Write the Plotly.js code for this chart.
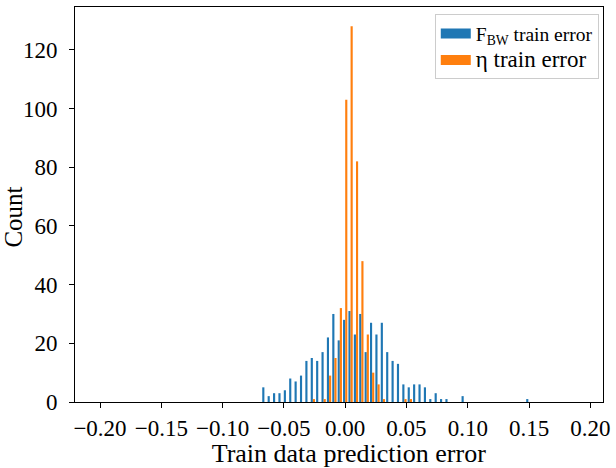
<!DOCTYPE html>
<html>
<head>
<meta charset="utf-8">
<script src="https://cdn.plot.ly/plotly-3.0.1.min.js"></script>
<style>
html,body{margin:0;padding:0;background:#fff;}
#chart{width:616px;height:468px;}
</style>
</head>
<body>
<div id="chart"></div>
<script>
// Histogram bin centres (train prediction error)
const binCenters = [
  -0.06591, -0.06152, -0.05712, -0.05273, -0.04833, -0.04394, -0.03955, -0.03515, -0.03076, -0.02636,
  -0.02197, -0.01758, -0.01318, -0.00879, -0.00439,  0.00000,  0.00439,  0.00879,  0.01318,  0.01758,
   0.02197,  0.02636,  0.03076,  0.03515,  0.03955,  0.04394,  0.04833,  0.05273,  0.05712,  0.06152,
   0.06591,  0.07030,  0.07470,  0.07909,  0.08349,  0.08788,  0.09228,  0.09667,  0.10107,  0.10546,
   0.10985,  0.11425,  0.11864,  0.12304,  0.12743,  0.13182,  0.13622,  0.14061,  0.14501,  0.14940
];
// F_BW train error counts
const fbwCounts = [
  5, 2, 3, 3, 4, 8, 7, 9, 14, 15,
  14, 17, 22, 30, 21, 28, 31, 23, 30, 17,
  27, 23, 27, 17, 14, 13, 6, 5, 6, 6,
  5, 1, 3, 1, 1, 0, 0, 2, 0, 0,
  0, 0, 0, 0, 0, 0, 0, 0, 0, 1
];
// eta train error counts
const etaCounts = [
  0, 0, 0, 0, 0, 0, 0, 0, 0, 1,
  0, 1, 9, 15, 32, 103, 128, 82, 48, 23,
  10, 6, 1, 0, 0, 0, 1, 1, 0, 0,
  0, 0, 0, 0, 0, 0, 0, 0, 0, 0,
  0, 0, 0, 0, 0, 0, 0, 0, 0, 0
];
const seriesNames = [
  '<span style="font-size:19.5px">F<sub>BW</sub> train error</span>',
  '<span style="font-size:23px">\u03b7 train error</span>'
];
const seriesColors = ['#1f77b4', '#ff7f0e'];
const xTickVals = [-0.20, -0.15, -0.10, -0.05, 0.00, 0.05, 0.10, 0.15, 0.20];
const xTickText = ["\u22120.20", "\u22120.15", "\u22120.10", "\u22120.05", "0.00", "0.05", "0.10", "0.15", "0.20"];
const yTickVals = [0, 20, 40, 60, 80, 100, 120];

const FONT = "Liberation Serif, Times New Roman, serif";
const PAD3 = '<span>\u00a0\u00a0\u00a0</span>';
const PAD4 = '<span>\u00a0\u00a0\u00a0\u00a0</span>';

const traces = [
  {type: 'bar', name: seriesNames[0], x: binCenters, y: fbwCounts,
   marker: {color: seriesColors[0], line: {width: 0}}, showlegend: false, legendgroup: 'a'},
  {type: 'bar', name: seriesNames[1], x: binCenters, y: etaCounts,
   marker: {color: seriesColors[1], line: {width: 0}}, showlegend: false, legendgroup: 'b'},
  // legend entries drawn as wide patches
  {type: 'scatter', mode: 'lines', name: seriesNames[0], x: [null], y: [null],
   line: {color: seriesColors[0], width: 13}, legendgroup: 'a', hoverinfo: 'skip'},
  {type: 'scatter', mode: 'lines', name: seriesNames[1], x: [null], y: [null],
   line: {color: seriesColors[1], width: 13}, legendgroup: 'b', hoverinfo: 'skip'}
];

const layout = {
  width: 616, height: 468,
  margin: {l: 75, r: 12.7, t: 6.7, b: 66.3},
  paper_bgcolor: '#fff', plot_bgcolor: '#fff',
  barmode: 'group', bargap: 0.2, bargroupgap: 0,
  font: {family: FONT, color: '#000', size: 19},
  showlegend: true,
  legend: {
    x: 0.992, y: 0.9815, xanchor: 'right', yanchor: 'top',
    bgcolor: 'rgba(255,255,255,0.8)', bordercolor: '#cccccc', borderwidth: 1,
    font: {family: FONT, size: 18, color: '#000'},
    tracegroupgap: 0
  },
  xaxis: {
    range: [-0.2204, 0.2103], autorange: false,
    tickvals: xTickVals, ticktext: xTickText,
    ticks: 'outside', ticklen: 5, tickwidth: 1, tickcolor: '#000',
    showline: true, linecolor: '#000', linewidth: 1, mirror: true,
    showgrid: false, zeroline: false,
    tickfont: {family: FONT, size: 23, color: '#000'},
    title: {text: PAD3 + 'Train data prediction error', font: {family: FONT, size: 26, color: '#000'}, standoff: 6},
    automargin: 'top'
  },
  yaxis: {
    range: [0, 134.6], autorange: false,
    tickvals: yTickVals,
    ticks: 'outside', ticklen: 5, tickwidth: 1, tickcolor: '#000',
    showline: true, linecolor: '#000', linewidth: 1, mirror: true,
    showgrid: false, zeroline: false,
    ticklabelstandoff: 7,
    tickfont: {family: FONT, size: 23, color: '#000'},
    title: {text: 'Count' + PAD4, font: {family: FONT, size: 25, color: '#000'}, standoff: 0},
    automargin: 'right'
  }
};

Plotly.newPlot('chart', traces, layout, {displayModeBar: false, staticPlot: true});
</script>
</body>
</html>
